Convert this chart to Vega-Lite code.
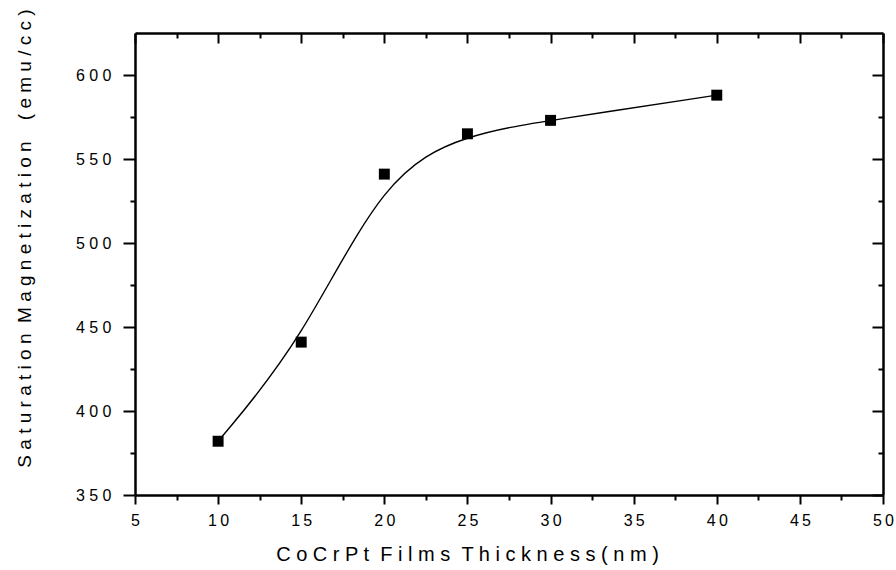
{
  "$schema": "https://vega.github.io/schema/vega-lite/v6.json",
  "width": 748,
  "height": 462,
  "autosize": "none",
  "padding": {"left": 135, "top": 33, "right": 13, "bottom": 75},
  "background": "white",
  "config": {
    "view": {"stroke": null},
    "axis": {
      "grid": false,
      "domainColor": "black",
      "domainWidth": 2.5,
      "tickColor": "black",
      "tickWidth": 2,
      "labelFont": "Liberation Sans",
      "labelFontSize": 16,
      "labelColor": "black",
      "labelFlush": false,
      "labelOverlap": false,
      "titleFont": "Liberation Sans",
      "titleFontSize": 20,
      "titleFontWeight": "normal",
      "titleColor": "black"
    }
  },
  "data": {
    "values": [
      {"t": 10, "ms": 382},
      {"t": 15, "ms": 441},
      {"t": 20, "ms": 541},
      {"t": 25, "ms": 565},
      {"t": 30, "ms": 573},
      {"t": 40, "ms": 588}
    ]
  },
  "layer": [
    {
      "mark": {"type": "line", "interpolate": "basis", "color": "black", "strokeWidth": 1.4},
      "encoding": {
        "x": {
          "field": "t", "type": "quantitative",
          "scale": {"domain": [5, 50], "nice": false, "zero": false},
          "axis": {
            "orient": "bottom",
            "values": [5, 10, 15, 20, 25, 30, 35, 40, 45, 50],
            "tickSize": 9,
            "labelExpr": "join(split(toString(datum.value), ''), '\u2009')",
            "labelPadding": 8,
            "title": "C o C r P t \u00a0F i l m s \u00a0T h i c k n e s s ( n m )",
            "titlePadding": 16,
            "titleX": 332
          }
        },
        "y": {
          "field": "ms", "type": "quantitative",
          "scale": {"domain": [350, 625], "nice": false, "zero": false},
          "axis": {
            "orient": "left",
            "values": [350, 400, 450, 500, 550, 600],
            "tickSize": 12,
            "labelExpr": "join(split(toString(datum.value), ''), ' ')",
            "labelPadding": 12,
            "title": "S a t u r a t i o n \u00a0M a g n e t i z a t i o n \u00a0 \u00a0( e m u / c c )",
            "titleFontSize": 19,
            "titlePadding": 41,
            "titleY": 205
          }
        }
      }
    },
    {
      "mark": {"type": "square", "size": 120, "filled": true, "color": "black", "opacity": 1},
      "encoding": {
        "x": {
          "field": "t", "type": "quantitative",
          "axis": {
            "orient": "top",
            "values": [5, 10, 15, 20, 25, 30, 35, 40, 45, 50],
            "tickSize": -10,
            "labels": false,
            "title": null
          }
        },
        "y": {
          "field": "ms", "type": "quantitative",
          "axis": {
            "orient": "right",
            "values": [350, 400, 450, 500, 550, 600],
            "tickSize": -11,
            "labels": false,
            "title": null
          }
        }
      }
    },
    {
      "mark": {"type": "square", "size": 1, "opacity": 0},
      "encoding": {
        "x": {
          "field": "t", "type": "quantitative",
          "axis": {
            "orient": "bottom",
            "values": [7.5, 12.5, 17.5, 22.5, 27.5, 32.5, 37.5, 42.5, 47.5],
            "tickSize": 5,
            "domain": false,
            "labels": false,
            "title": null
          }
        },
        "y": {
          "field": "ms", "type": "quantitative",
          "axis": {
            "orient": "left",
            "values": [375, 425, 475, 525, 575],
            "tickSize": 5,
            "domain": false,
            "labels": false,
            "title": null
          }
        }
      }
    },
    {
      "mark": {"type": "square", "size": 1, "opacity": 0},
      "encoding": {
        "x": {
          "field": "t", "type": "quantitative",
          "axis": {
            "orient": "top",
            "values": [7.5, 12.5, 17.5, 22.5, 27.5, 32.5, 37.5, 42.5, 47.5],
            "tickSize": -5,
            "domain": false,
            "labels": false,
            "title": null
          }
        },
        "y": {
          "field": "ms", "type": "quantitative",
          "axis": {
            "orient": "right",
            "values": [375, 425, 475, 525, 575],
            "tickSize": -5,
            "domain": false,
            "labels": false,
            "title": null
          }
        }
      }
    }
  ]
}
